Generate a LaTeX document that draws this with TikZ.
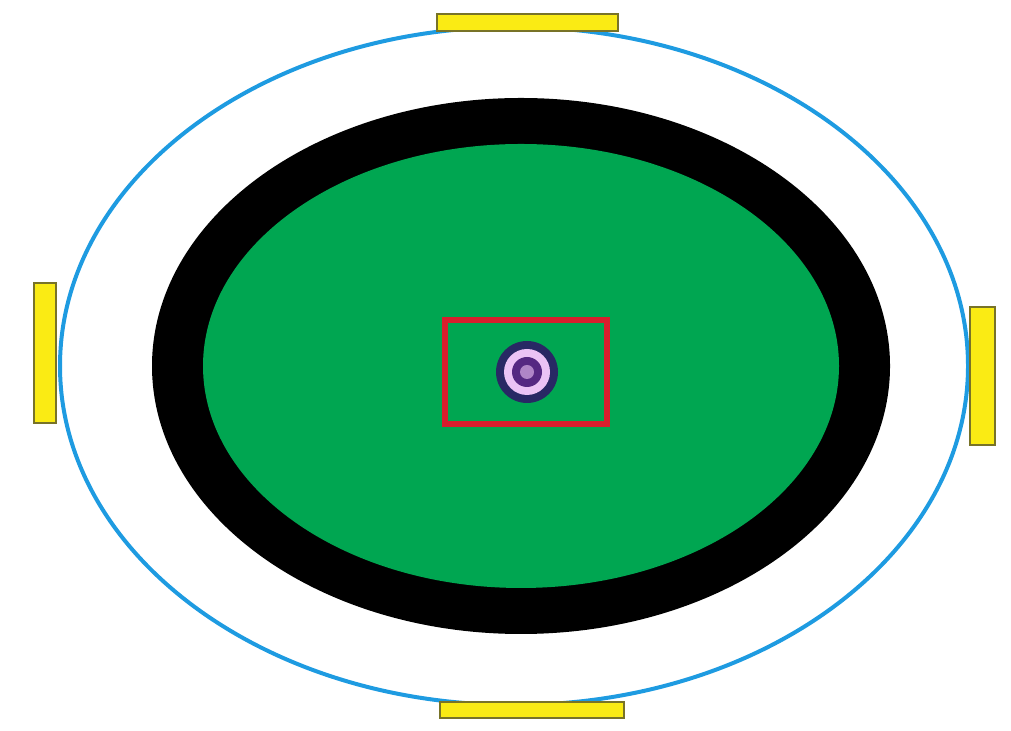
\documentclass[tikz,border=0pt]{standalone}
\usetikzlibrary{shapes.geometric}

\definecolor{trackblue}{RGB}{30,155,225}
\definecolor{fieldgreen}{RGB}{0,166,81}
\definecolor{barfill}{RGB}{250,235,20}
\definecolor{barline}{RGB}{120,115,40}
\definecolor{boxred}{RGB}{215,30,45}
\definecolor{spotnavy}{RGB}{40,40,100}
\definecolor{spotpink}{RGB}{235,195,245}
\definecolor{spotpurple}{RGB}{85,40,130}

\begin{document}
\begin{tikzpicture}[
  track/.style ={draw=trackblue,line width=0.04cm},
  ring/.style  ={fill=black},
  field/.style ={fill=fieldgreen},
  bar/.style   ={draw=barline,fill=barfill,line width=0.02cm},
  box/.style   ={draw=boxred,line width=0.06cm},
]
\useasboundingbox (0,0) rectangle (10.11,7.31);

%% ======================================================
%% Outer track and field
%% ======================================================
\coordinate (trackc) at (5.14,3.65);
\coordinate (fieldc) at (5.21,3.65);

\draw[track] (trackc) ellipse [x radius=4.54,y radius=3.39];
\fill[ring]  (fieldc) ellipse [x radius=3.69,y radius=2.68];
\fill[field] (fieldc) ellipse [x radius=3.18,y radius=2.22];

%% --- Yellow bars on the track ---
\draw[bar] (4.37,7.00) rectangle (6.18,7.17);   % top
\draw[bar] (4.40,0.13) rectangle (6.24,0.29);   % bottom
\draw[bar] (0.34,3.08) rectangle (0.56,4.48);   % left
\draw[bar] (9.70,2.86) rectangle (9.95,4.24);   % right

%% ======================================================
%%  Centre box and spot
%% ======================================================
\draw[box] (4.45,3.07) rectangle (6.07,4.11);

\coordinate (spot) at (5.27,3.59);
\fill[spotnavy]   (spot) circle (0.31);
\fill[spotpink]   (spot) circle (0.23);
\fill[spotpurple] (spot) circle (0.15);
\fill[spotpink!60!spotpurple] (spot) circle (0.07);

\end{tikzpicture}
\end{document}
